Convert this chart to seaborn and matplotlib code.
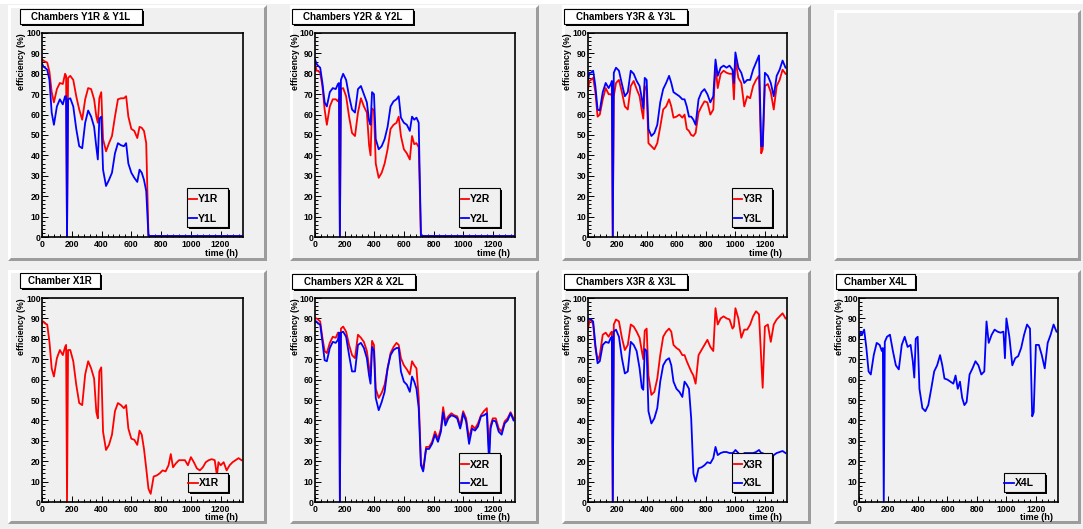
import matplotlib
matplotlib.use("Agg")
import matplotlib.pyplot as plt
import numpy as np
import pandas as pd
import seaborn as sns
from matplotlib.patches import Rectangle, Polygon
from matplotlib.lines import Line2D
from matplotlib.transforms import Affine2D
from matplotlib.ticker import MultipleLocator

# ---------------------------------------------------------------- data
time_h = [0, 10, 20, 35, 50, 65, 80, 100, 120, 140,
          155, 162, 168, 175, 190, 210, 230, 250, 270, 290,
          310, 330, 350, 365, 375, 385, 398, 410, 430, 450,
          470, 490, 510, 530, 550, 565, 580, 600, 620, 640,
          655, 670, 685, 700, 715, 730, 750, 770, 790, 810,
          830, 850, 865, 880, 900, 920, 940, 960, 980, 990,
          1000, 1020, 1040, 1060, 1080, 1100, 1120, 1140, 1160, 1175,
          1185, 1200, 1220, 1240, 1260, 1280, 1300, 1320, 1340]

y1r = [87, 86.5, 86, 85.5, 81, 71, 66, 72.5, 75.5, 75,
       80, 79, 0, 78, 79, 77, 69, 62.5, 57.5, 67.5,
       73, 72.5, 67.5, 59, 56, 68, 71, 48, 42, 46,
       49.5, 59, 67.5, 68, 68, 69, 59, 53, 52, 48.5,
       54, 53.5, 52, 46, 0.5, 0.5, 0.5, 0.5, 0.5, 0.5,
       0.5, 0.5, 0.5, 0.5, 0.5, 0.5, 0.5, 0.5, 0.5, 0.5,
       0.5, 0.5, 0.5, 0.5, 0.5, 0.5, 0.5, 0.5, 0.5, 0.5,
       0.5, 0.5, 0.5, 0.5, 0.5, 0.5, 0.5, 0.5, 0.5]
y1l = [85, 83.5, 83, 82, 77, 61, 55, 64, 67.5, 65,
       69, 69, 0, 67.5, 68, 64, 53, 44.5, 43.5, 56,
       62, 59, 54, 44, 38, 58, 59, 33, 25, 28,
       31.5, 41, 46, 45, 44.5, 46, 36, 31.5, 29, 27,
       33, 31.5, 28, 22.5, 0.5, 0.5, 0.5, 0.5, 0.5, 0.5,
       0.5, 0.5, 0.5, 0.5, 0.5, 0.5, 0.5, 0.5, 0.5, 0.5,
       0.5, 0.5, 0.5, 0.5, 0.5, 0.5, 0.5, 0.5, 0.5, 0.5,
       0.5, 0.5, 0.5, 0.5, 0.5, 0.5, 0.5, 0.5, 0.5]
y2r = [85.5, 81.5, 81.5, 80.5, 74, 62.5, 55, 64, 67.5, 67.5,
       66.5, 68, 0, 72.5, 73, 69, 59, 51, 49.5, 61,
       68, 64, 61, 45, 40, 63, 62, 36, 29, 31.5,
       36, 43, 53, 55, 56, 59, 49.5, 43, 41, 38,
       49.5, 45.5, 46, 44, 0.5, 0.5, 0.5, 0.5, 0.5, 0.5,
       0.5, 0.5, 0.5, 0.5, 0.5, 0.5, 0.5, 0.5, 0.5, 0.5,
       0.5, 0.5, 0.5, 0.5, 0.5, 0.5, 0.5, 0.5, 0.5, 0.5,
       0.5, 0.5, 0.5, 0.5, 0.5, 0.5, 0.5, 0.5, 0.5]
y2l = [87, 85, 84, 83, 75.5, 66, 64, 71, 73, 72.5,
       75, 75.5, 0, 77, 80, 77, 69, 62.5, 61, 72.5,
       74, 70, 66, 57, 55, 71, 70, 48, 43, 44.5,
       48, 54, 64, 66.5, 67.5, 69, 58.5, 56, 55, 52,
       59, 57.5, 58.5, 56, 0.5, 0.5, 0.5, 0.5, 0.5, 0.5,
       0.5, 0.5, 0.5, 0.5, 0.5, 0.5, 0.5, 0.5, 0.5, 0.5,
       0.5, 0.5, 0.5, 0.5, 0.5, 0.5, 0.5, 0.5, 0.5, 0.5,
       0.5, 0.5, 0.5, 0.5, 0.5, 0.5, 0.5, 0.5, 0.5]
y3r = [72.5, 76.5, 77, 78, 71, 59, 60, 67.5, 73, 70,
       70, 69, 0, 69, 75.5, 77, 71, 64, 62.5, 74,
       76.5, 72.5, 69, 62, 58, 74, 72, 46, 44.5, 43,
       46, 54, 62.5, 64, 67.5, 64, 58.5, 59, 60, 58.5,
       60, 53, 52, 50, 49.5, 51, 61, 64, 66.5, 66,
       60, 62.5, 84, 73, 80, 81.5, 80.5, 80, 80, 67.5,
       87, 78, 75.5, 64, 69, 68, 74, 77, 79, 41,
       43, 74, 75, 71, 62.5, 74, 77, 82, 80]
y3l = [77, 80.5, 80.5, 81.5, 74, 62.5, 62, 71, 75.5, 73,
       75, 76.5, 0, 80.5, 83, 81.5, 75, 69, 71, 81.5,
       80, 76.5, 74, 68, 63, 78, 77, 53, 49.5, 51,
       55, 66, 72.5, 75.5, 79, 75.5, 71, 70, 69, 67.5,
       67.5, 64, 59, 59, 57.5, 55, 67.5, 71, 72.5, 70,
       66, 69, 87, 79, 83, 84, 83, 84, 82, 75.5,
       90.5, 83, 80.5, 75.5, 77, 77, 82, 85.5, 89, 44.5,
       44.5, 80.5, 79, 75.5, 69, 79, 82, 86.5, 83]
x1r = [87.5, 88.5, 87.5, 87, 78.5, 65.5, 61.5, 70.5, 74.5, 72,
       76, 77, 0, 74.5, 74.5, 69, 57.5, 48.5, 47.5, 62.5,
       69, 65.5, 60.5, 44, 41, 64, 66, 34.5, 25.5, 28,
       33, 44.5, 48.5, 47.5, 46, 47.5, 36, 31, 30.5, 28,
       35, 33, 26, 16.5, 6.5, 4, 12.5, 13, 14, 15.5,
       15, 18, 23.5, 17, 19, 20.5, 20.5, 20.5, 18, 20,
       22, 19.5, 16.5, 15.5, 17, 19.5, 20.5, 21, 20.5, 13,
       19.5, 18, 19.5, 15.5, 18, 19.5, 20.5, 21.5, 20.5]
x2r = [90, 90, 89.5, 88.5, 80.5, 74, 73, 78, 81, 80.5,
       83, 83, 0, 85, 86, 83.5, 77, 72, 70.5, 82,
       80.5, 78.5, 74, 66, 62, 79, 77, 55.5, 51, 53.5,
       57.5, 65.5, 73, 76, 78, 77, 70.5, 67, 65, 62.5,
       69, 67, 65.5, 51, 19.5, 15.5, 27, 27, 29.5, 34.5,
       31, 36, 46.5, 39.5, 42, 43.5, 42.5, 42, 37.5, 41,
       44.5, 41, 31, 37.5, 36, 38.5, 42.5, 44.5, 46, 24.5,
       37.5, 41, 41, 36, 34.5, 39.5, 41, 44, 41]
x2l = [88.5, 88.5, 87.5, 87, 78.5, 69.5, 69, 75.5, 78.5, 78,
       79.5, 83, 0, 83, 83.5, 81, 72, 64, 64, 77,
       78, 75.5, 70.5, 62, 58, 76, 74, 51, 45, 49,
       54, 65.5, 72, 74.5, 75.5, 75.5, 64, 59, 57.5, 54,
       61.5, 59, 55.5, 46, 18, 15, 26, 26, 28.5, 33,
       29.5, 34.5, 44, 37.5, 41, 42.5, 42, 41, 36, 39,
       43.5, 39.5, 28.5, 36, 35, 37, 42, 42.5, 43.5, 19.5,
       36, 40, 39.5, 34.5, 33, 38.5, 40, 43.5, 40]
x3r = [85, 88.5, 89.5, 87, 75.5, 69.5, 72, 82, 83, 81,
       83, 83.5, 0, 87, 89.5, 88.5, 80.5, 74.5, 77, 87,
       86, 83.5, 80.5, 74, 70, 84, 85, 62, 52.5, 54,
       60.5, 72, 81, 83.5, 85, 83.5, 77, 75.5, 74.5, 72,
       72, 69, 66.5, 64, 62, 58, 72, 74.5, 77, 79.5,
       76, 74, 95, 87, 90, 91, 90, 89.5, 85, 86,
       95, 90, 80.5, 84.5, 84.5, 87, 91, 93.5, 92, 70,
       56, 86, 87, 78.5, 87, 89.5, 91, 92.5, 90]
x3l = [90, 89.5, 89.5, 88.5, 77, 68, 69, 77, 78.5, 78,
       80.5, 81, 0, 83.5, 84.5, 81, 70.5, 63, 64, 78.5,
       77, 74, 65.5, 56, 55, 75, 74, 44.5, 38.5, 41,
       46, 59, 67, 69.5, 70.5, 67, 59, 55.5, 54, 51.5,
       59, 57.5, 55.5, 41, 14, 10, 16.5, 17, 18, 19.5,
       19, 21.5, 27, 23, 24, 24.5, 24.5, 24, 24, 24.5,
       25.5, 24, 22, 24, 24, 24, 24, 24.5, 25.5, 24,
       24, 23, 22, 20, 23, 24, 24.5, 25, 24]
x4l = [80.5, 83.5, 82, 84.5, 75.5, 64, 62.5, 72, 78, 77,
       74, 75.5, 0, 78.5, 81, 82, 74, 67, 65, 77,
       81, 76, 77, 69, 61, 80, 81, 55.5, 46, 44.5,
       47.5, 55.5, 64, 67, 72, 67, 60.5, 60, 59, 58,
       62, 55.5, 59, 51, 47.5, 49, 62.5, 65.5, 69, 67,
       62.5, 64, 88.5, 78, 82, 84.5, 83.5, 83, 83.5, 70.5,
       90, 81, 67, 70.5, 71.5, 75.5, 82, 87, 85, 42,
       44, 77, 77, 72, 65.5, 78, 82, 87, 83.5]

titles = ["Chambers Y1R & Y1L", "Chambers Y2R & Y2L", "Chambers Y3R & Y3L",
          "Chamber X1R", "Chambers X2R & X2L", "Chambers X3R & X3L", "Chamber X4L"]
series_names = [["Y1R", "Y1L"], ["Y2R", "Y2L"], ["Y3R", "Y3L"],
                ["X1R"], ["X2R", "X2L"], ["X3R", "X3L"], ["X4L"]]
series_values = [[y1r, y1l], [y2r, y2l], [y3r, y3l],
                 [x1r], [x2r, x2l], [x3r, x3l], [x4l]]
y_ticks = [0, 10, 20, 30, 40, 50, 60, 70, 80, 90, 100]
x_ticks = [0, 200, 400, 600, 800, 1000, 1200]

# ---------------------------------------------------------------- style
RED, BLUE = "#ff0000", "#0000ff"
BG = "#f0f0f0"
SHADOW = "#9c9c9c"
FONT = "Liberation Sans"

W, H = 1083, 529
fig = plt.figure(figsize=(W / 100, H / 100), dpi=100, facecolor=BG)
# pixel coordinates measured from the top-left corner
pix = Affine2D().scale(1 / W, -1 / H).translate(0, 1) + fig.transFigure


def rect(x0, y0, x1, y1, z, **kw):
    fig.patches.append(Rectangle((x0, y0), x1 - x0, y1 - y0, transform=pix,
                                 zorder=z, **kw))


def bevel(x0, y0, x1, y1, b=3, z=-5):
    rect(x0, y0, x1, y1, z, facecolor=BG, edgecolor="none")
    hi = [(x0, y1), (x0, y0), (x1, y0), (x1 - b, y0 + b), (x0 + b, y0 + b), (x0 + b, y1 - b)]
    lo = [(x0, y1), (x1, y1), (x1, y0), (x1 - b, y0 + b), (x1 - b, y1 - b), (x0 + b, y1 - b)]
    fig.patches.append(Polygon(hi, closed=True, transform=pix, facecolor="white",
                               edgecolor="none", zorder=z + 1))
    fig.patches.append(Polygon(lo, closed=True, transform=pix, facecolor=SHADOW,
                               edgecolor="none", zorder=z + 1))


def shadow_box(x0, y0, x1, y1, face, s=2, z=10):
    rect(x0 + s, y0 + s, x1 + s, y1 + s, z, facecolor="black", edgecolor="none")
    rect(x0, y0, x1, y1, z + 0.1, facecolor=face, edgecolor="black", linewidth=0.8)


# canvas edge and pads
fig.patches.append(Rectangle((0, 0), W, 4, transform=pix, facecolor="white",
                             edgecolor="none", zorder=-6))
pad_boxes = [(8, 5, 267, 261), (290, 5, 539, 261), (562, 5, 811, 261), (834, 10, 1081, 261),
             (8, 270, 267, 524), (290, 270, 539, 524), (562, 270, 811, 524), (834, 270, 1081, 524)]
for pb in pad_boxes:
    bevel(*pb)

axes_boxes = [(42, 33, 243, 237), (315, 33, 515, 237), (588, 33, 787, 237),
              (42, 298, 243, 502), (315, 298, 515, 502), (588, 298, 787, 502),
              (859, 298, 1058, 502)]
title_boxes = [(20, 9, 142, 24), (292, 9, 413, 24), (564, 9, 687, 24),
               (20, 273, 100, 288), (292, 274, 415, 289), (564, 274, 687, 289),
               (836, 274, 915, 289)]
legend_boxes = [(187, 188, 228, 227), (459, 188, 500, 227), (732, 188, 772, 227),
                (188, 473, 228, 492), (459, 453, 500, 492), (732, 453, 772, 492),
                (1004, 473, 1045, 492)]

for i, title in enumerate(titles):
    x0, y0, x1, y1 = axes_boxes[i]
    ax = fig.add_axes([x0 / W, 1 - y1 / H, (x1 - x0) / W, (y1 - y0) / H])
    ax.set_facecolor(BG)

    colors = [RED, BLUE] if len(series_names[i]) == 2 else \
        ([RED] if series_names[i][0].endswith("R") else [BLUE])
    frames = []
    for name, vals in zip(series_names[i], series_values[i]):
        frames.append(pd.DataFrame({"time": time_h, "efficiency": vals, "chamber": name}))
    df = pd.concat(frames, ignore_index=True)
    sns.lineplot(data=df, x="time", y="efficiency", hue="chamber",
                 palette=dict(zip(series_names[i], colors)), estimator=None,
                 sort=False, legend=False, linewidth=1.3, ax=ax)

    ax.set_xlim(0, 1350)
    ax.set_ylim(0, 100)
    ax.set_xticks(x_ticks)
    ax.set_yticks(y_ticks)
    ax.xaxis.set_minor_locator(MultipleLocator(40))
    ax.yaxis.set_minor_locator(MultipleLocator(2))
    ax.tick_params(which="both", direction="in", top=False, right=False,
                   width=0.7, colors="black")
    ax.tick_params(which="major", length=4.5)
    ax.tick_params(which="minor", length=2.2)
    ax.tick_params(axis="x", which="major", pad=2.0)
    ax.tick_params(axis="y", which="major", pad=1.0)
    for lab in ax.get_xticklabels() + ax.get_yticklabels():
        lab.set_fontfamily(FONT)
        lab.set_fontweight("bold")
        lab.set_fontsize(6.2)
    for sp in ax.spines.values():
        sp.set_linewidth(1.2)
        sp.set_color("black")
    ax.set_xlabel("")
    ax.set_ylabel("")

    # axis titles, ROOT-style: aligned to the far end of each axis
    fig.text(x0 - 20, y0, "efficiency (%)", transform=pix, rotation=90,
             ha="center", va="top", fontfamily=FONT, fontweight="bold", fontsize=6.3)
    fig.text(x1 - 5, y1 + 16, "time (h)", transform=pix, ha="right", va="center",
             fontfamily=FONT, fontweight="bold", fontsize=6.5)

    # title box
    tx0, ty0, tx1, ty1 = title_boxes[i]
    shadow_box(tx0, ty0, tx1, ty1, "white")
    fig.text((tx0 + tx1) / 2, (ty0 + ty1) / 2 + 0.5, title, transform=pix,
             ha="center", va="center", fontfamily=FONT, fontweight="bold",
             fontsize=7, zorder=12)

    # legend box
    lx0, ly0, lx1, ly1 = legend_boxes[i]
    shadow_box(lx0, ly0, lx1, ly1, BG)
    n = len(series_names[i])
    rows = [ly0 + 11, ly0 + 30] if n == 2 else [(ly0 + ly1) / 2]
    for name, col, ry in zip(series_names[i], colors, rows):
        lx_start = lx0 + 2 if n == 2 else lx0
        fig.add_artist(Line2D([lx_start, lx0 + 10], [ry, ry], transform=pix,
                              color=col, linewidth=1.3, zorder=12))
        fig.text(lx0 + 11, ry + 0.5, name, transform=pix, ha="left", va="center",
                 fontfamily=FONT, fontweight="bold", fontsize=7.5, zorder=12)

fig.savefig("out.png", dpi=100, facecolor=BG)
